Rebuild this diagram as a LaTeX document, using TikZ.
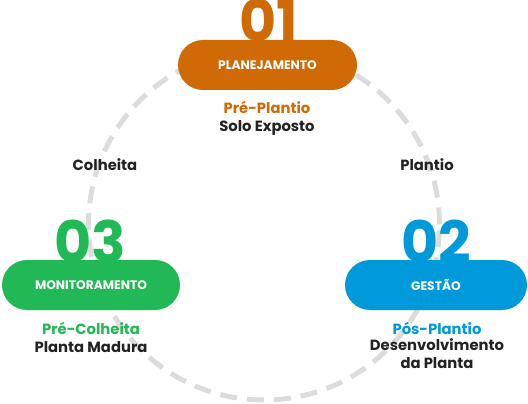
\documentclass[tikz,border=0pt]{standalone}
\usepackage{fontspec}
\setmainfont{Poppins}
\definecolor{cOrange}{HTML}{CF6A04}
\definecolor{cGreen}{HTML}{21B955}
\definecolor{cBlue}{HTML}{0099D9}
\definecolor{cText}{HTML}{222222}
\definecolor{cRing}{HTML}{DCDCDC}
\tikzset{
  pill/.style={fill=#1, rounded corners=25pt, minimum width=179pt, minimum height=50pt,
    inner sep=0pt, text=white, font=\fontsize{12.3pt}{14pt}\selectfont\bfseries},
  bignum/.style={text=#1, font=\fontsize{57pt}{57pt}\selectfont\bfseries, inner sep=0pt, anchor=base},
  sub/.style={text=#1, font=\fontsize{14.8pt}{18pt}\selectfont\bfseries, align=center, inner sep=0pt},
  desc/.style={text=cText, font=\fontsize{14.8pt}{18pt}\selectfont\bfseries, align=center, inner sep=0pt},
  ring/.style={draw=cRing, line width=5pt, dash pattern=on 17pt off 10pt}
}
\begin{document}
\begin{tikzpicture}[x=1pt, y=-1pt]
\useasboundingbox (0,0) rectangle (528,404);
\node[circle, minimum size=351pt, inner sep=0pt, ring] (ring) at (264,224.5) {};
% numbers
\node[bignum=cOrange] (n1) at (269,42) {01};
\node[bignum=cGreen] (n3) at (90,262) {03};
\node[bignum=cBlue] (n2) at (436,262) {02};
% pills
\node[pill=cOrange] (p1) at (267.5,65) {PLANEJAMENTO};
\node[pill=cGreen, minimum width=178pt] (p3) at (91,285) {MONITORAMENTO};
\node[pill=cBlue, minimum width=182pt] (p2) at (436,285) {GESTÃO};
% texts
\node[sub=cOrange] (s1) at (267,107) {Pré-Plantio};
\node[desc] (d1) at (267,128) {Solo Exposto};
\node[sub=cGreen] (s3) at (91,328) {Pré-Colheita};
\node[desc] (d3) at (91,347) {Planta Madura};
\node[sub=cBlue] (s2) at (437,328) {Pós-Plantio};
\node[desc, anchor=north] (d2) at (437,338) {Desenvolvimento\\da Planta};
\node[desc] (lc) at (105,165) {Colheita};
\node[desc] (lp) at (427,165) {Plantio};
\end{tikzpicture}
\end{document}
